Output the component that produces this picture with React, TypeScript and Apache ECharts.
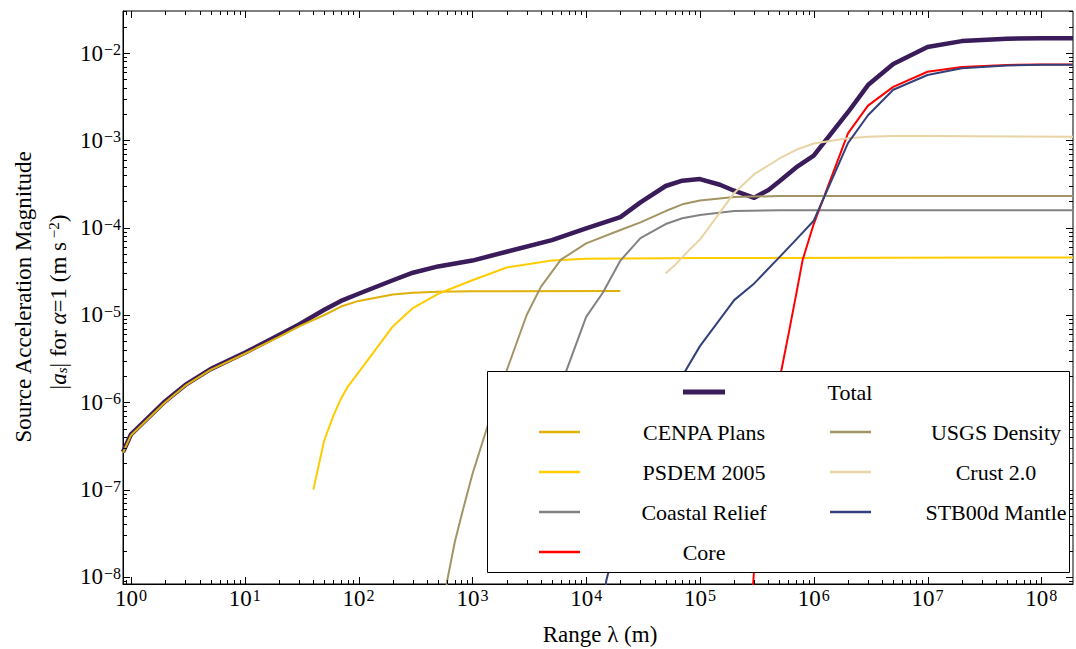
import React, { useEffect, useRef } from "react";
import * as echarts from "echarts";

const SERIF = "Liberation Serif";

const X_MIN = 0.85;
const X_MAX = 1.9e8;
const Y_MIN = 8.3e-9;
const Y_MAX = 3.03e-2;

const minorMultipliers = [2, 3, 4, 5, 6, 7, 8, 9];

const seriesNames = [
  "Total",
  "CENPA Plans",
  "PSDEM 2005",
  "Coastal Relief",
  "Core",
  "USGS Density",
  "Crust 2.0",
  "STB00d Mantle",
];
const seriesColors = ["#3b1c5a", "#e0b10a", "#ffcc00", "#828282", "#ff0000", "#a39466", "#e8d4a4", "#34407a"];

const totalData = [
  [0.85, 2.7e-7], [1, 4.3e-7], [2, 1.03e-6], [3, 1.58e-6], [5, 2.4e-6], [10, 3.7e-6], [20, 5.9e-6],
  [30, 7.8e-6], [50, 1.15e-5], [70, 1.45e-5], [100, 1.75e-5], [200, 2.5e-5], [300, 3.05e-5],
  [500, 3.6e-5], [1000, 4.2e-5], [2000, 5.3e-5], [5000, 7.2e-5], [1e4, 9.8e-5], [2e4, 1.32e-4],
  [3e4, 1.95e-4], [5e4, 3.0e-4], [7e4, 3.45e-4], [1e5, 3.6e-4], [1.5e5, 3.1e-4], [2e5, 2.65e-4],
  [3e5, 2.2e-4], [4e5, 2.7e-4], [5e5, 3.4e-4], [7e5, 4.9e-4], [1e6, 6.7e-4], [2e6, 2.1e-3],
  [3e6, 4.3e-3], [5e6, 7.5e-3], [1e7, 1.17e-2], [2e7, 1.37e-2], [5e7, 1.46e-2], [1e8, 1.48e-2],
  [1.9e8, 1.48e-2],
];
const cenpaData = [
  [0.85, 2.65e-7], [1, 4.2e-7], [2, 1.0e-6], [3, 1.55e-6], [5, 2.35e-6], [10, 3.6e-6], [20, 5.6e-6],
  [30, 7.4e-6], [50, 1.0e-5], [70, 1.25e-5], [100, 1.45e-5], [200, 1.72e-5], [300, 1.8e-5],
  [500, 1.85e-5], [1000, 1.87e-5], [2e4, 1.88e-5],
];
const psdemData = [
  [40, 1e-7], [50, 3.7e-7], [60, 7e-7], [70, 1.1e-6], [80, 1.5e-6], [100, 2.2e-6], [200, 7.4e-6],
  [300, 1.2e-5], [500, 1.75e-5], [1000, 2.5e-5], [2000, 3.5e-5], [5000, 4.2e-5], [1e4, 4.4e-5],
  [1e5, 4.5e-5], [1.9e8, 4.55e-5],
];
const coastalData = [
  [2500, 2.5e-8], [3000, 6e-8], [4000, 2.5e-7], [5000, 7e-7], [6700, 2.3e-6], [1e4, 9.5e-6],
  [1.4e4, 1.8e-5], [2e4, 4.2e-5], [3e4, 7.6e-5], [5e4, 1.1e-4], [7e4, 1.28e-4], [1e5, 1.4e-4],
  [2e5, 1.55e-4], [5e5, 1.58e-4], [1.9e8, 1.58e-4],
];
const coreData = [
  [2.8e5, 3e-9], [3e5, 1.3e-8], [4e5, 3e-7], [5e5, 1.8e-6], [6e5, 6e-6], [7e5, 1.7e-5], [8e5, 4.3e-5],
  [1e6, 1.1e-4], [2e6, 1.2e-3], [3e6, 2.5e-3], [5e6, 4.1e-3], [1e7, 6.1e-3], [2e7, 6.9e-3],
  [5e7, 7.3e-3], [1e8, 7.4e-3], [1.9e8, 7.4e-3],
];
const usgsData = [
  [550, 3e-9], [600, 9e-9], [700, 2.5e-8], [800, 5e-8], [1000, 1.5e-7], [1500, 8e-7], [2000, 2.3e-6],
  [3000, 1.0e-5], [4000, 2.1e-5], [6000, 4.3e-5], [1e4, 6.6e-5], [2e4, 9.4e-5], [3e4, 1.15e-4],
  [5e4, 1.55e-4], [7e4, 1.85e-4], [1e5, 2.05e-4], [2e5, 2.25e-4], [5e5, 2.3e-4], [1.9e8, 2.3e-4],
];
const crustData = [
  [5e4, 3e-5], [6e4, 3.7e-5], [7e4, 4.6e-5], [8e4, 5.5e-5], [1e5, 7.3e-5], [1.5e5, 1.5e-4],
  [2e5, 2.5e-4], [3e5, 4.1e-4], [5e5, 6.2e-4], [7e5, 7.8e-4], [1e6, 9.2e-4], [2e6, 1.06e-3],
  [3e6, 1.1e-3], [5e6, 1.12e-3], [1e7, 1.12e-3], [1.9e8, 1.1e-3],
];
const mantleData = [
  [1.4e4, 3e-9], [1.5e4, 9e-9], [2e4, 4e-8], [3e4, 2e-7], [5e4, 8e-7], [7e4, 2e-6], [1e5, 4.4e-6],
  [2e5, 1.48e-5], [3e5, 2.3e-5], [5e5, 4.6e-5], [7e5, 7.3e-5], [1e6, 1.2e-4], [2e6, 9.3e-4],
  [3e6, 1.94e-3], [5e6, 3.8e-3], [1e7, 5.6e-3], [2e7, 6.7e-3], [5e7, 7.2e-3], [1e8, 7.35e-3],
  [1.9e8, 7.35e-3],
];
const seriesData = [totalData, cenpaData, psdemData, coastalData, coreData, usgsData, crustData, mantleData];
const seriesWidths = [4.5, 2, 2, 2, 2, 2, 2, 2];

// legend slots: [seriesIndex, lineX1, lineX2, textCenterX, rowY]
const legendSlots = [
  [0, 683, 725, 850, 392],
  [1, 539, 580, 704, 432],
  [5, 830, 871, 996, 432],
  [2, 539, 580, 704, 472],
  [6, 830, 871, 996, 472],
  [3, 539, 580, 704, 512],
  [7, 830, 871, 996, 512],
  [4, 539, 580, 704, 552],
];

function buildTicks() {
  const out: number[][] = [];
  // kind: 0 x-minor, 1 x-major, 2 y-minor, 3 y-major
  for (let d = -1; d <= 8; d++) {
    const base = Math.pow(10, d);
    if (base >= X_MIN && base <= X_MAX) out.push([base, Y_MIN, 1]);
    for (const m of minorMultipliers) {
      const v = m * base;
      if (v >= X_MIN && v <= X_MAX) out.push([v, Y_MIN, 0]);
    }
  }
  for (let d = -9; d <= -2; d++) {
    const base = Math.pow(10, d);
    if (base >= Y_MIN && base <= Y_MAX) out.push([X_MIN, base, 3]);
    for (const m of minorMultipliers) {
      const v = m * base;
      if (v >= Y_MIN && v <= Y_MAX) out.push([X_MIN, v, 2]);
    }
  }
  return out;
}

function powLabel(v: number) {
  const l = Math.log10(v);
  const n = Math.round(l);
  if (Math.abs(l - n) > 1e-4) return "";
  const e = n < 0 ? "\u2212" + -n : String(n);
  return "{b|10}{s|" + e + "}";
}

const labelRich = {
  b: { fontSize: 23, fontFamily: SERIF, color: "#000" },
  s: { fontSize: 16, fontFamily: SERIF, color: "#000", verticalAlign: "top", padding: [0, 0, 0, 1] },
};

export default function App() {
  const ref = useRef<HTMLDivElement>(null);
  useEffect(() => {
    if (!ref.current) return;
    const chart = echarts.init(ref.current, null, { renderer: "svg" });
    const lineSeries = seriesNames.map((name, i) => ({
      type: "line",
      name,
      data: seriesData[i],
      showSymbol: false,
      symbol: "none",
      silent: true,
      clip: true,
      lineStyle: { color: seriesColors[i], width: seriesWidths[i], join: "round", cap: "butt" },
      itemStyle: { color: seriesColors[i] },
      z: 2,
    }));
    const tickSeries = {
      type: "custom",
      silent: true,
      clip: false,
      z: 10,
      data: buildTicks(),
      renderItem: (params: any, api: any) => {
        const kind = api.value(2);
        const st = { stroke: "#000", lineWidth: 1 };
        if (kind < 2) {
          const xv = api.value(0);
          const len = kind === 1 ? 7 : 4;
          const b = api.coord([xv, Y_MIN]);
          const t = api.coord([xv, Y_MAX]);
          const px = Math.round(b[0]) + 0.5;
          return {
            type: "group",
            children: [
              { type: "line", shape: { x1: px, y1: b[1], x2: px, y2: b[1] - len }, style: st },
              { type: "line", shape: { x1: px, y1: t[1], x2: px, y2: t[1] + len }, style: st },
            ],
          };
        }
        const yv = api.value(1);
        const len = kind === 3 ? 7 : 4;
        const l = api.coord([X_MIN, yv]);
        const r = api.coord([X_MAX, yv]);
        const py = Math.round(l[1]) + 0.5;
        return {
          type: "group",
          children: [
            { type: "line", shape: { x1: l[0], y1: py, x2: l[0] + len, y2: py }, style: st },
            { type: "line", shape: { x1: r[0], y1: py, x2: r[0] - len, y2: py }, style: st },
          ],
        };
      },
    };

    const legendEls: any[] = [
      {
        type: "rect",
        z: 100,
        shape: { x: 487.5, y: 371.5, width: 582, height: 201 },
        style: { fill: "#fff", stroke: "#000", lineWidth: 1 },
      },
    ];
    legendSlots.forEach(([si, x1, x2, tx, y]) => {
      legendEls.push({
        type: "line",
        z: 101,
        shape: { x1, y1: y, x2, y2: y },
        style: { stroke: seriesColors[si], lineWidth: si === 0 ? 5 : 2.5 },
      });
      legendEls.push({
        type: "text",
        z: 101,
        x: tx,
        y,
        style: {
          text: seriesNames[si],
          font: "22px " + SERIF,
          fill: "#000",
          align: "center",
          verticalAlign: "middle",
        },
      });
    });

    const titleEls: any[] = [
      {
        type: "text",
        x: 23,
        y: 297,
        rotation: Math.PI / 2,
        style: {
          text: "Source Acceleration Magnitude",
          font: "23px " + SERIF,
          fill: "#000",
          align: "center",
          verticalAlign: "middle",
        },
      },
      {
        type: "text",
        x: 58,
        y: 302,
        rotation: Math.PI / 2,
        style: {
          text: "|{i|a}{sub|s}| for {i|\u03b1}=1 (m s{sup| \u22122})",
          fontSize: 23,
          fontFamily: SERIF,
          fill: "#000",
          align: "center",
          verticalAlign: "middle",
          rich: {
            i: { fontStyle: "italic", fontSize: 23, fontFamily: SERIF, fill: "#000" },
            sub: { fontStyle: "italic", fontSize: 15, fontFamily: SERIF, fill: "#000", verticalAlign: "bottom" },
            sup: { fontSize: 15, fontFamily: SERIF, fill: "#000", verticalAlign: "top" },
          },
        },
      },
      {
        type: "text",
        x: 600,
        y: 634,
        style: {
          text: "Range \u03bb (m)",
          font: "23px " + SERIF,
          fill: "#000",
          align: "center",
          verticalAlign: "middle",
        },
      },
    ];

    chart.setOption({
      animation: false,
      backgroundColor: "#fff",
      textStyle: { fontFamily: SERIF },
      grid: {
        left: 123,
        top: 11,
        width: 954,
        height: 573,
        show: true,
        borderColor: "#000",
        borderWidth: 1,
        backgroundColor: "transparent",
      },
      xAxis: {
        type: "log",
        logBase: 10,
        min: X_MIN,
        max: X_MAX,
        axisLine: { show: true, onZero: false, lineStyle: { color: "#000", width: 1 } },
        axisTick: { show: false },
        minorTick: { show: false },
        splitLine: { show: false },
        axisLabel: {
          formatter: powLabel,
          rich: labelRich,
          margin: 3,
          color: "#000",
          fontSize: 23,
          fontFamily: SERIF,
          hideOverlap: false,
        },
      },
      yAxis: {
        type: "log",
        logBase: 10,
        min: Y_MIN,
        max: Y_MAX,
        axisLine: { show: true, onZero: false, lineStyle: { color: "#000", width: 1 } },
        axisTick: { show: false },
        minorTick: { show: false },
        splitLine: { show: false },
        axisLabel: {
          formatter: powLabel,
          rich: labelRich,
          margin: 2,
          color: "#000",
          fontSize: 23,
          fontFamily: SERIF,
          hideOverlap: false,
        },
      },
      series: [...lineSeries, tickSeries],
      graphic: [...titleEls, ...legendEls],
    });
    return () => chart.dispose();
  }, []);
  return (
    <div
      ref={ref}
      style={{ position: "fixed", left: 0, top: 0, width: 1076, height: 649, background: "#fff" }}
    />
  );
}
